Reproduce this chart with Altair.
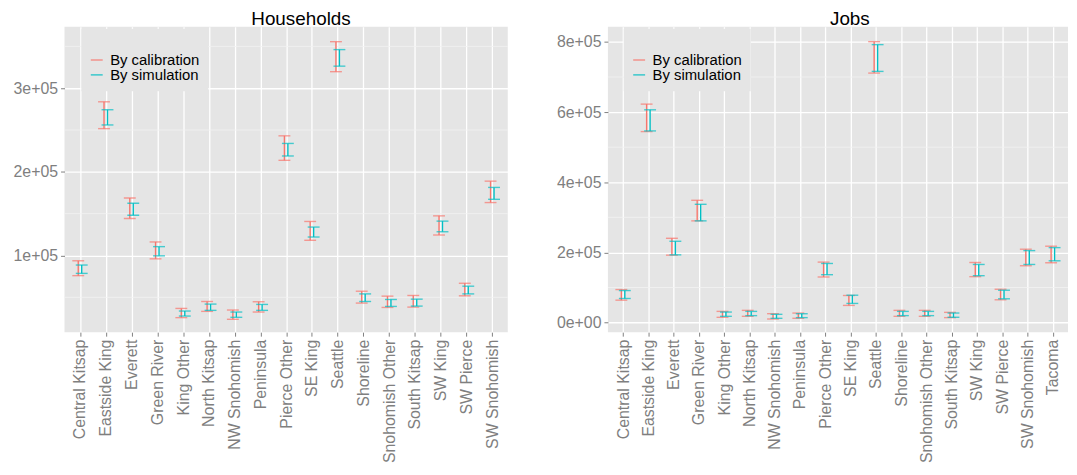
import altair as alt
import pandas as pd

SERIES = ["By calibration", "By simulation"]
COLORS = ["#F8766D", "#00BFC4"]

hh_regions = ["Central Kitsap", "Eastside King", "Everett", "Green River", "King Other",
              "North Kitsap", "NW Snohomish", "Peninsula", "Pierce Other", "SE King",
              "Seattle", "Shoreline", "Snohomish Other", "South Kitsap", "SW King",
              "SW Pierce", "SW Snohomish"]
hh_cal_lo = [75900, 251700, 144300, 96000, 25700, 33200, 23700, 32400, 213800, 118200,
             319800, 43100, 37900, 38300, 124500, 51800, 163300]
hh_cal_hi = [93700, 283800, 168800, 116200, 36700, 45000, 34800, 44700, 243100, 140700,
             355700, 57300, 51400, 52200, 147400, 66800, 188900]
hh_sim_lo = [78600, 256100, 148200, 99600, 27600, 34400, 26100, 34400, 219000, 122100,
             326400, 45000, 39100, 39500, 128400, 54100, 167200]
hh_sim_hi = [88600, 274300, 162400, 110600, 33600, 41900, 32400, 41500, 234000, 134000,
             346200, 54100, 47400, 47800, 141100, 63300, 181400]

jb_regions = hh_regions + ["Tacoma"]
jb_cal_lo = [63900, 544500, 192200, 290000, 15000, 17800, 10200, 12200, 130000, 48900,
             711300, 17800, 17800, 14100, 130900, 65000, 162000, 170500]
jb_cal_hi = [94100, 622800, 240300, 348600, 31900, 34800, 25400, 27100, 172400, 77200,
             800900, 34800, 34800, 29100, 171300, 95000, 209200, 217700]
jb_sim_lo = [68700, 546400, 193100, 290000, 17800, 19800, 12100, 14100, 136500, 54600,
             716100, 19800, 19800, 15100, 133700, 67800, 165700, 176100]
jb_sim_hi = [91300, 606600, 231800, 337200, 30000, 31900, 23500, 25200, 168500, 78000,
             792400, 31900, 31900, 27200, 165700, 92200, 205200, 213700]

hh_major = [100000, 200000, 300000]
hh_minor = [50000, 150000, 250000, 350000]
jb_major = [0, 200000, 400000, 600000, 800000]
jb_minor = [100000, 300000, 500000, 700000]

FONT = "Liberation Sans"
GREY = "#7F7F7F"


def long_df(regions, cal_lo, cal_hi, sim_lo, sim_hi):
    rows = []
    for i, r in enumerate(regions):
        rows.append({"region": r, "series": SERIES[0], "lo": cal_lo[i], "hi": cal_hi[i]})
        rows.append({"region": r, "series": SERIES[1], "lo": sim_lo[i], "hi": sim_hi[i]})
    return pd.DataFrame(rows)


def panel(title, dx, regions, df, major, minor, domain, width, legend_x):
    legend = alt.Legend(title=" ", orient="none", legendX=legend_x, legendY=2,
                        fillColor="#E5E5E5", padding=8, symbolType="stroke",
                        symbolSize=144, symbolStrokeWidth=1.6, labelFontSize=15,
                        labelFont=FONT, labelColor="black", labelOffset=6,
                        gridAlign="none", rowPadding=-1, titleFontSize=12,
                        titlePadding=4, direction="vertical")
    color = alt.Color("series:N", scale=alt.Scale(domain=SERIES, range=COLORS),
                      legend=legend)
    x = alt.X("region:N", sort=regions,
              scale=alt.Scale(type="point", padding=0.6),
              axis=alt.Axis(title=None, labelAngle=-90, labelFontSize=16,
                            labelFont=FONT, labelColor=GREY, tickColor=GREY,
                            tickSize=4, tickWidth=1, labelPadding=3, domain=False,
                            grid=True, gridColor="white", gridWidth=1.3))
    yscale = alt.Scale(domain=domain, nice=False, zero=False)
    yaxis = alt.Axis(title=None, values=major, labelFontSize=16, labelFont=FONT,
                     labelColor=GREY, tickColor=GREY, tickSize=4, tickWidth=1,
                     labelPadding=3, domain=False, grid=True, gridColor="white",
                     gridWidth=1.3,
                     labelExpr="replace(format(datum.value, '.0e'), 'e+', 'e+0')")

    minor_df = pd.DataFrame({"v": minor})
    minor_layer = alt.Chart(minor_df).mark_rule(color="#F2F2F2", strokeWidth=0.8).encode(
        y=alt.Y("v:Q", scale=yscale, axis=yaxis))

    layers = [minor_layer]
    offsets = [-1.75, 1.75]
    for s, off in zip(SERIES, offsets):
        base = alt.Chart(df).transform_filter(alt.datum.series == s)
        layers.append(base.mark_rule(xOffset=off, strokeWidth=1.4).encode(
            x=x, y=alt.Y("lo:Q", scale=yscale, axis=yaxis), y2="hi:Q", color=color))
        layers.append(base.mark_tick(xOffset=off, size=12, thickness=1.4).encode(
            x=x, y=alt.Y("lo:Q", scale=yscale, axis=yaxis), color=color))
        layers.append(base.mark_tick(xOffset=off, size=12, thickness=1.4).encode(
            x=x, y=alt.Y("hi:Q", scale=yscale, axis=yaxis), color=color))

    return alt.layer(*layers).properties(
        width=width, height=308,
        title=alt.TitleParams(title, fontSize=19, fontWeight="normal", font=FONT,
                              color="black", anchor="middle", dx=dx, offset=-17,
                              baseline="alphabetic"))


hh_df = long_df(hh_regions, hh_cal_lo, hh_cal_hi, hh_sim_lo, hh_sim_hi)
jb_df = long_df(jb_regions, jb_cal_lo, jb_cal_hi, jb_sim_lo, jb_sim_hi)

left = panel("Households", 15, hh_regions, hh_df, hh_major, hh_minor,
             [8300, 373500], 447, 17)
right = panel("Jobs", 12, jb_regions, jb_df, jb_major, jb_minor,
              [-27400, 843300], 464, 16)

chart = alt.hconcat(left, right, spacing=48).resolve_scale(
    color="independent").properties(
    padding={"left": 5, "top": 0, "right": 0, "bottom": 0}
).configure_view(fill="#E5E5E5", strokeWidth=0)

chart.save("out.html", embed_options={"renderer": "svg", "actions": False})
